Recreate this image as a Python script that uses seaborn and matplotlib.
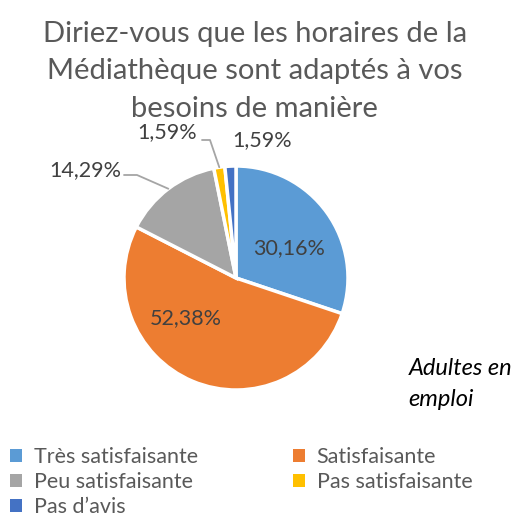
import numpy as np
import matplotlib.pyplot as plt
import seaborn as sns
from matplotlib.patches import Patch

categories = ["Très satisfaisante", "Satisfaisante", "Peu satisfaisante",
              "Pas satisfaisante", "Pas d\u2019avis"]
values = [30.16, 52.38, 14.29, 1.59, 1.59]
labels = ["30,16%", "52,38%", "14,29%", "1,59%", "1,59%"]
colors = ["#5B9BD5", "#ED7D31", "#A5A5A5", "#FFC000", "#4472C4"]

sns.set_theme(style="white")
plt.rcParams['font.family'] = ['Lato', 'DejaVu Sans']

fig = plt.figure(figsize=(5.25, 5.16), dpi=100)
ax = fig.add_axes([0, 0, 1, 1])

cx, cy, r = 236, 238, 112
wedges, _ = ax.pie(values, colors=colors, startangle=90, counterclock=False,
                   center=(cx, cy), radius=r, frame=True,
                   wedgeprops=dict(edgecolor="white", linewidth=2.5))
ax.set_xlim(0, 525)
ax.set_ylim(0, 516)
ax.axis("off")
ax.set_aspect("auto")

txt = "#404040"
fs = 15.5
# inside labels
ax.text(289, 268, labels[0], ha="center", va="center", fontsize=fs, color=txt)
ax.text(186, 198, labels[1], ha="center", va="center", fontsize=fs, color=txt)


def edge(w):
    a = np.deg2rad((w.theta1 + w.theta2) / 2)
    return cx + r * np.cos(a), cy + r * np.sin(a)


# outside labels with leader lines
ax.text(85, 346, labels[2], ha="center", va="center", fontsize=fs, color=txt)
ex, ey = edge(wedges[2])
ax.plot([124, 137, ex], [341, 341, ey], color="#A5A5A5", lw=1.3)

ax.text(167, 384, labels[3], ha="center", va="center", fontsize=fs, color=txt)
ex, ey = edge(wedges[3])
ax.plot([202, 210, ex], [376, 376, ey], color="#A5A5A5", lw=1.3)

ax.text(262, 376, labels[4], ha="center", va="center", fontsize=fs, color=txt)

fig.text(0.485, 0.862, "Diriez-vous que les horaires de la\nMédiathèque sont adaptés à vos\nbesoins de manière",
         ha="center", va="center", fontsize=21, color="#595959", linespacing=1.55)

fig.text(0.778, 0.256, "Adultes en\nemploi", ha="left", va="center", fontsize=17,
         style="italic", color="#000000", linespacing=1.55)

order = [0, 2, 4, 1, 3]
handles = [Patch(facecolor=colors[i], edgecolor="none") for i in order]
fig.legend(handles, [categories[i] for i in order], ncol=2, loc="lower left",
           bbox_to_anchor=(-0.017, -0.04), frameon=False, fontsize=fs,
           labelcolor="#595959", handlelength=0.55, handleheight=0.55,
           handletextpad=0.55, columnspacing=4.4, labelspacing=0.24)

fig.savefig("out.png", dpi=100)
